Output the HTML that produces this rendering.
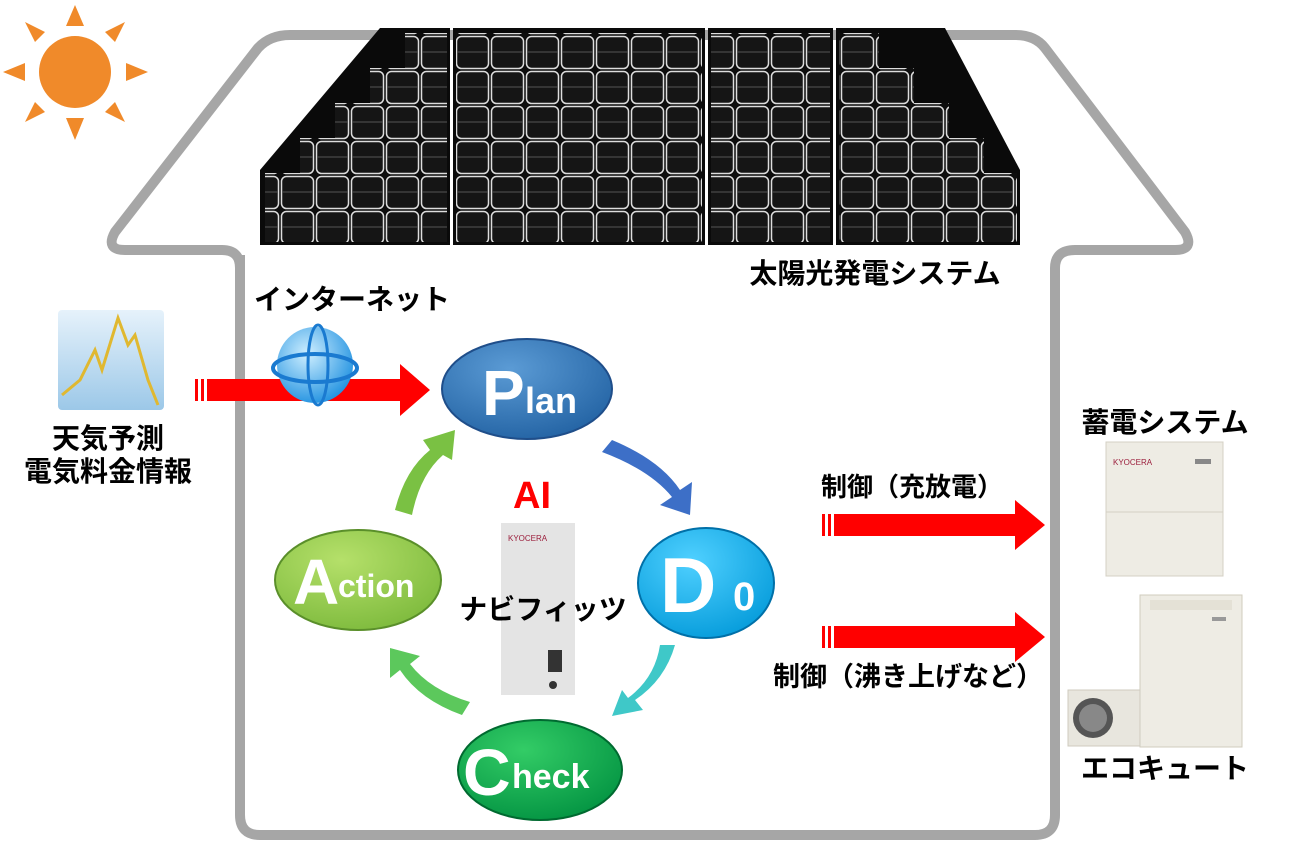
<!DOCTYPE html>
<html><head><meta charset="utf-8"><style>
html,body{margin:0;padding:0;background:#fff;}
svg{display:block;}
text{font-family:"Liberation Sans","Noto Sans CJK JP",sans-serif;}
</style></head><body>
<svg width="1291" height="860" viewBox="0 0 1291 860" xmlns="http://www.w3.org/2000/svg">
<defs>
<pattern id="cell" x="0" y="0" width="35" height="35" patternUnits="userSpaceOnUse">
<rect width="35" height="35" fill="#0d0d0d"/>
<rect x="1.5" y="1.5" width="32" height="32" rx="5" fill="#151515" stroke="#ddd" stroke-width="1.5"/>
<line x1="2" y1="17" x2="33" y2="17" stroke="#555" stroke-width="1"/>
</pattern>
<radialGradient id="gp" cx="0.4" cy="0.3" r="0.8"><stop offset="0" stop-color="#5b9bd5"/><stop offset="1" stop-color="#1f5fa0"/></radialGradient>
<radialGradient id="gd" cx="0.4" cy="0.3" r="0.8"><stop offset="0" stop-color="#4fd0ff"/><stop offset="1" stop-color="#0098d8"/></radialGradient>
<radialGradient id="gc" cx="0.4" cy="0.3" r="0.8"><stop offset="0" stop-color="#33cc66"/><stop offset="1" stop-color="#009040"/></radialGradient>
<radialGradient id="ga" cx="0.4" cy="0.3" r="0.8"><stop offset="0" stop-color="#b5e06a"/><stop offset="1" stop-color="#7ab83a"/></radialGradient>
<radialGradient id="gg" cx="0.4" cy="0.35" r="0.7"><stop offset="0" stop-color="#cfefff"/><stop offset="1" stop-color="#1e90e0"/></radialGradient>
<linearGradient id="chart" x1="0" y1="0" x2="0" y2="1"><stop offset="0" stop-color="#e6f2fb"/><stop offset="1" stop-color="#9cc8e8"/></linearGradient>
</defs>

<!-- sun -->
<g fill="#f08a2a">
<circle cx="75" cy="72" r="36"/>
<polygon points="75,5 66,26 84,26"/><polygon points="75,140 66,118 84,118"/>
<polygon points="3,72 25,63 25,81"/><polygon points="148,72 126,63 126,81"/>
<polygon points="25,22 35,42 45,32"/><polygon points="125,22 105,32 115,42"/>
<polygon points="25,122 45,112 35,102"/><polygon points="125,122 115,102 105,112"/>
</g>

<!-- house outline -->
<path d="M240,255 L240,815 Q240,835 260,835 L1035,835 Q1055,835 1055,815 L1055,268 Q1055,250 1075,250 L1175,250 Q1195,250 1185,232 L1045,48 Q1035,35 1015,35 L290,35 Q270,35 258,48 L115,232 Q105,250 125,250 L222,250 Q240,250 240,268" fill="none" stroke="#a6a6a6" stroke-width="10" stroke-linejoin="round"/>

<!-- solar panels -->
<polygon points="260,170 380,28 450,28 450,245 260,245" fill="#0a0a0a"/>
<polygon points="453,28 705,28 705,245 453,245" fill="#0a0a0a"/>
<polygon points="708,28 833,28 833,245 708,245" fill="#0a0a0a"/>
<polygon points="836,28 945,28 1020,170 1020,245 836,245" fill="#0a0a0a"/>
<g fill="url(#cell)">
<rect x="405" y="33" width="42" height="35"/>
<rect x="370" y="68" width="77" height="35"/>
<rect x="335" y="103" width="112" height="35"/>
<rect x="300" y="138" width="147" height="35"/>
<rect x="265" y="173" width="182" height="69"/>
<rect x="456" y="33" width="246" height="209"/>
<rect x="711" y="33" width="119" height="209"/>
<rect x="839" y="33" width="40" height="35"/>
<rect x="839" y="68" width="75" height="35"/>
<rect x="839" y="103" width="110" height="35"/>
<rect x="839" y="138" width="145" height="35"/>
<rect x="839" y="173" width="178" height="69"/>
</g>

<text x="875" y="283" font-size="28" font-weight="bold" text-anchor="middle">太陽光発電システム</text>
<text x="352" y="309" font-size="28" font-weight="bold" text-anchor="middle">インターネット</text>

<!-- chart -->
<rect x="58" y="310" width="106" height="100" rx="4" fill="url(#chart)"/>
<polyline points="62,395 80,380 95,350 102,370 118,318 128,345 135,335 148,380 158,405" fill="none" stroke="#e0b830" stroke-width="3"/>
<text x="108" y="448" font-size="28" font-weight="bold" text-anchor="middle">天気予測</text>
<text x="108" y="481" font-size="28" font-weight="bold" text-anchor="middle">電気料金情報</text>

<!-- red arrow in -->
<g fill="#ff0000">
<rect x="195" y="379" width="3" height="22"/><rect x="201" y="379" width="3" height="22"/>
<polygon points="207,379 400,379 400,364 430,390 400,416 400,401 207,401"/>
</g>
<!-- globe -->
<circle cx="315" cy="365" r="38" fill="url(#gg)"/>
<ellipse cx="315" cy="368" rx="42" ry="14" fill="none" stroke="#1a7ad0" stroke-width="4"/>
<ellipse cx="318" cy="365" rx="10" ry="40" fill="none" stroke="#1a7ad0" stroke-width="3"/>

<!-- cycle arrows -->
<path d="M612,440 Q660,460 680,490 L692,482 L690,515 L660,505 L672,497 Q650,470 602,452 Z" fill="#3d6fc7"/>
<path d="M675,645 Q665,680 635,700 L643,710 L612,716 L622,690 L628,698 Q655,678 660,645 Z" fill="#3fc8c8"/>
<path d="M462,715 Q420,700 400,670 L390,678 L390,648 L420,656 L410,664 Q430,690 470,702 Z" fill="#5cc85c"/>
<path d="M395,510 Q405,470 430,450 L423,440 L455,430 L452,460 L443,455 Q420,475 412,515 Z" fill="#7ac143"/>

<!-- ellipses -->
<ellipse cx="527" cy="389" rx="85" ry="50" fill="url(#gp)" stroke="#1f4e8a" stroke-width="2"/>
<text x="482" y="415" font-size="64" font-weight="bold" fill="#fff">P</text>
<text x="525" y="413" font-size="36" font-weight="bold" fill="#fff">lan</text>

<ellipse cx="706" cy="583" rx="68" ry="55" fill="url(#gd)" stroke="#0070a8" stroke-width="2"/>
<text x="660" y="612" font-size="78" font-weight="bold" fill="#fff">D</text>
<text x="733" y="610" font-size="40" font-weight="bold" fill="#fff">0</text>

<ellipse cx="540" cy="770" rx="82" ry="50" fill="url(#gc)" stroke="#006a30" stroke-width="2"/>
<text x="463" y="795" font-size="66" font-weight="bold" fill="#fff">C</text>
<text x="512" y="788" font-size="34" font-weight="bold" fill="#fff">heck</text>

<ellipse cx="358" cy="580" rx="83" ry="50" fill="url(#ga)" stroke="#5a8f2a" stroke-width="2"/>
<text x="293" y="604" font-size="64" font-weight="bold" fill="#fff">A</text>
<text x="338" y="597" font-size="32" font-weight="bold" fill="#fff">ction</text>

<!-- AI device -->
<text x="532" y="508" font-size="38" font-weight="bold" fill="#ff0000" text-anchor="middle">AI</text>
<rect x="501" y="523" width="74" height="172" fill="#e4e4e4"/>
<text x="508" y="541" font-size="8" fill="#9b1e3c">KYOCERA</text>
<rect x="548" y="650" width="14" height="22" fill="#333"/>
<circle cx="553" cy="685" r="4" fill="#333"/>
<text x="543" y="619" font-size="28" font-weight="bold" text-anchor="middle">ナビフィッツ</text>

<!-- right arrows -->
<g fill="#ff0000">
<rect x="822" y="514" width="3" height="22"/><rect x="828" y="514" width="3" height="22"/>
<polygon points="834,514 1015,514 1015,500 1045,525 1015,550 1015,536 834,536"/>
<rect x="822" y="626" width="3" height="22"/><rect x="828" y="626" width="3" height="22"/>
<polygon points="834,626 1015,626 1015,612 1045,637 1015,662 1015,648 834,648"/>
</g>
<text x="912" y="496" font-size="26" font-weight="bold" text-anchor="middle">制御（充放電）</text>
<text x="908" y="686" font-size="27" font-weight="bold" text-anchor="middle">制御（沸き上げなど）</text>

<!-- battery -->
<text x="1165" y="432" font-size="28" font-weight="bold" text-anchor="middle">蓄電システム</text>
<rect x="1106" y="442" width="117" height="134" fill="#eeece4" stroke="#d4d0c4"/>
<text x="1113" y="465" font-size="8" fill="#9b1e3c">KYOCERA</text>
<rect x="1195" y="459" width="16" height="5" fill="#888"/>
<line x1="1106" y1="512" x2="1223" y2="512" stroke="#d4d0c4"/>
<!-- ecocute -->
<rect x="1140" y="595" width="102" height="152" fill="#eeece4" stroke="#d0ccbe"/>
<rect x="1150" y="600" width="82" height="10" fill="#e4e1d6"/>
<rect x="1212" y="617" width="14" height="4" fill="#999"/>
<rect x="1068" y="690" width="72" height="56" fill="#e8e6de" stroke="#cfcbbf"/>
<circle cx="1093" cy="718" r="20" fill="#555"/>
<circle cx="1093" cy="718" r="14" fill="#888"/>
<text x="1165" y="778" font-size="28" font-weight="bold" text-anchor="middle">エコキュート</text>
</svg>
</body></html>
